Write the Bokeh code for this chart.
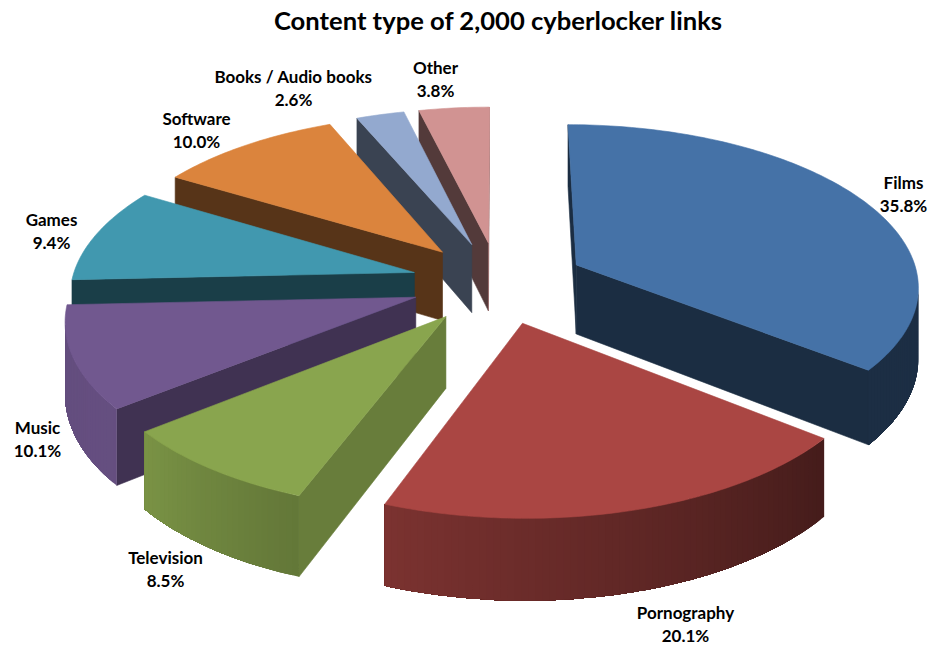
import numpy as np
from bokeh.plotting import figure
from bokeh.models import Range1d, ColumnDataSource
from bokeh.core.properties import value
from bokeh.embed import file_html
from bokeh.resources import INLINE

# ---- data ----
categories = ["Films", "Pornography", "Television", "Music", "Games", "Software", "Books / Audio books", "Other"]
shares = [35.8, 20.1, 8.5, 10.1, 9.4, 10.0, 2.6, 3.8]
colors = ["#4572A7", "#AA4643", "#89A54E", "#71588F", "#4198AF", "#DB843D", "#93A9CF", "#D19392"]
title = "Content type of 2,000 cyberlocker links"

# ---- style / layout ----
label_x = [903, 685, 165, 37, 51, 196, 293, 435]
label_y = [182, 612, 557, 427, 219, 118, 76, 67]
draw_order = [7, 6, 5, 4, 3, 2, 0, 1]
CX, CY, FX, FY, K, DEPTH, EXPLODE = 498.0, 282.0, 343.0, 161.0, 0.12, 70.0, 0.255


def project(u, v, drop=0.0):
    s = 1.0 / (1.0 - K * v)
    return CX + FX * u * s, CY + (FY * v + drop) * s


def shade(hex_color, f):
    r, g, b = (int(hex_color[i:i + 2], 16) for i in (1, 3, 5))
    return "#%02x%02x%02x" % (int(r * f), int(g * f), int(b * f))


def wall_shade(a):
    return float(np.interp(a, [0, 129, 201, 232, 268, 360], [0.40, 0.41, 0.73, 0.90, 0.88, 0.80]))


def cut_shade(nx):
    return float(np.interp(nx, [0.0, 0.62, 0.93], [0.40, 0.57, 0.76]))


def front_facing(xs, ys):
    # positive shoelace area with y pointing up = faces the viewer
    x, y = np.array(xs), -np.array(ys)
    return 0.5 * np.sum(x * np.roll(y, -1) - np.roll(x, -1) * y) > 0


total = sum(shares)
edges = np.concatenate([[0], np.cumsum(shares)]) / total * 360.0

xs, ys, fills, strokes = [], [], [], []


def add(px, py, c, stroke=1.0):
    xs.append(list(px))
    ys.append(list(py))
    fills.append(c)
    strokes.append(stroke)


for i in draw_order:
    a0, a1 = edges[i], edges[i + 1]
    mid = np.radians((a0 + a1) / 2)
    ou, ov = EXPLODE * np.sin(mid), -EXPLODE * np.cos(mid)
    ang = np.radians(np.linspace(a0, a1, max(int(a1 - a0), 4) + 1))
    us, vs = ou + np.sin(ang), ov - np.cos(ang)
    tx, ty = project(us, vs)
    bx, by = project(us, vs, DEPTH)
    ax, ay = project(ou, ov)
    abx, aby = project(ou, ov, DEPTH)

    # cut faces
    px, py = [ax, tx[0], bx[0], abx], [ay, ty[0], by[0], aby]
    if front_facing(px, py):
        add(px, py, shade(colors[i], cut_shade(-np.cos(ang[0]))))
    px, py = [tx[-1], ax, abx, bx[-1]], [ty[-1], ay, aby, by[-1]]
    if front_facing(px, py):
        add(px, py, shade(colors[i], cut_shade(np.cos(ang[-1]))))
    # outer wall: each band runs on to the end of the wall, so no seams show
    facing = [j for j in range(len(ang) - 1)
              if front_facing([tx[j], tx[j + 1], bx[j + 1], bx[j]], [ty[j], ty[j + 1], by[j + 1], by[j]])]
    if facing:
        last = facing[-1] + 2
        for j in facing:
            px = [*tx[j:last], *bx[j:last][::-1]]
            py = [*ty[j:last], *by[j:last][::-1]]
            add(px, py, shade(colors[i], wall_shade(np.degrees(ang[j]))), 0.0)
    # top
    add([ax, *tx], [ay, *ty], colors[i])

p = figure(width=930, height=646, x_range=Range1d(0, 930), y_range=Range1d(646, 0),
           output_backend="svg", toolbar_location=None, min_border=0)
p.axis.visible = False
p.grid.visible = False
p.outline_line_color = None
p.background_fill_color = "white"

p.patches("xs", "ys", fill_color="fills", line_color="fills", line_alpha="strokes", line_width=0.6,
          source=ColumnDataSource(dict(xs=xs, ys=ys, fills=fills, strokes=strokes)))

p.text(x=[498], y=[19], text=[title], text_font=value("Lato"), text_font_style="bold",
       text_font_size="25.6px", text_align="center", text_baseline="middle", text_color="black")

for lab, yoff in ((categories, 0), ([f"{s:.1f}%" for s in shares], 22.5)):
    p.text(x=label_x, y=[y + yoff for y in label_y], text=lab, text_font=value("Lato"),
           text_font_style="bold", text_font_size="17px", text_align="center",
           text_baseline="middle", text_color="black")

open("out.html", "w").write(file_html(p, INLINE))
